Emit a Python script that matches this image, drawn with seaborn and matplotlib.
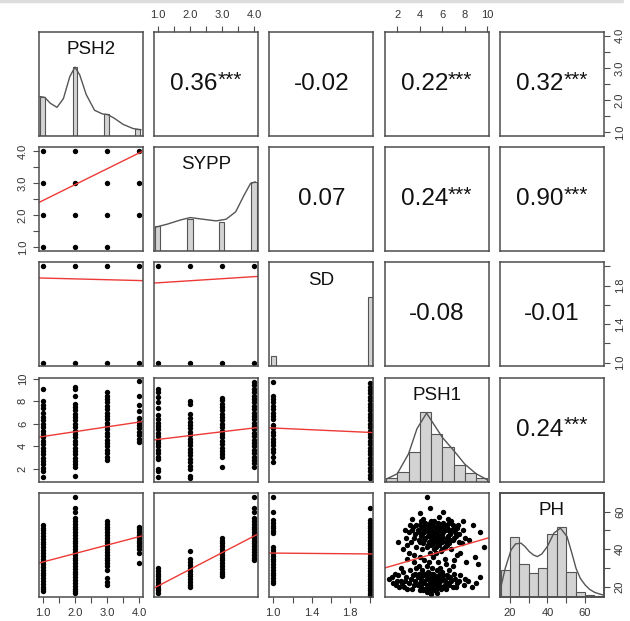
import numpy as np
import pandas as pd
import matplotlib
matplotlib.use('Agg')
import matplotlib.pyplot as plt
from matplotlib.lines import Line2D
import seaborn as sns

### 변수 이름 (대각선 순서)
var_names = ['PSH2', 'SYPP', 'SD', 'PSH1', 'PH']

### 축 범위 / 눈금
axis_lims = {'PSH2': (0.88, 4.12), 'SYPP': (0.88, 4.12), 'SD': (0.96, 2.04),
             'PSH1': (0.88, 10.1), 'PH': (14.6, 70.0)}
axis_ticks = {'PSH2': [1.0, 1.5, 2.0, 2.5, 3.0, 3.5, 4.0],
              'SYPP': [1.0, 1.5, 2.0, 2.5, 3.0, 3.5, 4.0],
              'SD': [1.0, 1.2, 1.4, 1.6, 1.8, 2.0],
              'PSH1': [2, 4, 6, 8, 10],
              'PH': [20, 30, 40, 50, 60]}
axis_ticklabels = {'PSH2': ['1.0', '', '2.0', '', '3.0', '', '4.0'],
                   'SYPP': ['1.0', '', '2.0', '', '3.0', '', '4.0'],
                   'SD': ['1.0', '', '1.4', '', '1.8', ''],
                   'PSH1': ['2', '4', '6', '8', '10'],
                   'PH': ['20', '', '40', '', '60']}

### 상관계수 (위쪽 삼각형) : 값, 유의성 별표
corr_value = {(0, 1): '0.36', (0, 2): '-0.02', (0, 3): '0.22', (0, 4): '0.32',
              (1, 2): '0.07', (1, 3): '0.24', (1, 4): '0.90',
              (2, 3): '-0.08', (2, 4): '-0.01',
              (3, 4): '0.24'}
corr_stars = {(0, 1): '***', (0, 2): '', (0, 3): '***', (0, 4): '***',
              (1, 2): '', (1, 3): '***', (1, 4): '***',
              (2, 3): '', (2, 4): '',
              (3, 4): '***'}

### 히스토그램 (대각선)
psh2_levels = [1.0, 2.0, 3.0, 3.94]
psh2_counts = [95, 167, 52, 16]
psh2_breaks = [0.92, 1.07, 1.93, 2.07, 2.91, 3.06, 3.86, 4.02]
psh2_dens_x = [0.91, 1.06, 1.23, 1.44, 1.64, 1.84, 2.0, 2.15, 2.35, 2.61, 2.86, 3.01, 3.22, 3.5, 3.81, 4.06]
psh2_dens_y = [95, 93, 79, 69, 90, 143, 166, 147, 100, 62, 53, 52, 43, 28, 18, 15]

sypp_levels = [1.0, 2.0, 3.0, 4.0]
sypp_counts = [60, 77, 70, 167]
sypp_breaks = [0.9, 1.07, 1.91, 2.09, 2.9, 3.06, 3.89, 4.08]
sypp_dens_x = [0.93, 1.28, 1.69, 2.0, 2.4, 2.81, 3.12, 3.42, 3.68, 3.88, 4.03]
sypp_dens_y = [58, 65, 75, 81, 77, 73, 77, 95, 135, 163, 167]

sd_levels = [1.0, 2.0]
sd_counts = [17, 113]
sd_breaks = [0.98, 1.03, 1.98, 2.04]

psh1_breaks = [1, 2, 3, 4, 5, 6, 7, 8, 9, 10]
psh1_counts = [4, 11, 34, 80, 55, 40, 19, 10, 4]
psh1_dens_x = [1.04, 2.0, 3.0, 3.75, 4.6, 5.15, 6.0, 7.0, 8.0, 9.0, 10.0]
psh1_dens_y = [3, 9, 32, 61, 79, 68, 51, 36, 20, 9, 2]

ph_breaks = [15, 20, 25, 30, 35, 40, 45, 50, 55, 60, 65, 70]
ph_counts = [80, 178, 97, 70, 87, 188, 207, 75, 15, 4, 2]
ph_dens_x = [15.4, 17.5, 20.6, 23, 25.9, 28, 30.3, 32.5, 34.6, 37, 39.9, 43.4, 46.9, 50.4,
             53, 55.2, 57.5, 60.1, 62.5, 65.2, 68, 70]
ph_dens_y = [35, 85, 140, 158, 160, 150, 135, 125, 120, 128, 150, 190, 205, 180,
             130, 85, 55, 35, 22, 13, 8, 5]

### 산점도 (아래쪽 삼각형)
grid_psh2 = [1, 2, 3, 4, 1, 2, 3, 4, 1, 2, 3, 4, 1, 2, 3]
grid_sypp = [4, 4, 4, 4, 3, 3, 3, 3, 2, 2, 2, 2, 1, 1, 1]
grid_x4 = [1, 2, 3, 4, 1, 2, 3, 4]
grid_sd = [2, 2, 2, 2, 1, 1, 1, 1]

psh1_by_psh2 = {
    1: [9.1, 8.0, 7.7, 7.4, 7.0, 6.6, 6.3, 6.0, 5.7, 5.4, 5.1, 4.8, 4.5, 4.2, 3.9, 3.6, 3.3, 3.0, 2.7, 2.4, 2.1, 1.8, 1.3],
    2: [9.3, 9.1, 8.5, 7.8, 7.5, 7.2, 6.9, 6.6, 6.3, 6.0, 5.7, 5.4, 5.1, 4.8, 4.5, 4.2, 3.9, 3.6, 3.3, 3.0, 2.7, 2.4, 2.2, 1.4],
    3: [8.8, 8.5, 8.2, 7.9, 7.6, 7.3, 7.0, 6.7, 6.4, 6.1, 5.8, 5.5, 5.2, 4.9, 4.6, 4.3, 4.0, 3.7, 3.4, 3.1, 2.8],
    4: [9.8, 8.5, 7.7, 7.1, 6.5, 6.2, 5.9, 5.6, 5.3, 5.0, 4.7, 4.4],
}
psh1_by_sypp = {
    1: [9.1, 8.8, 8.4, 7.9, 7.4, 6.8, 6.4, 6.1, 5.8, 5.5, 5.2, 4.9, 4.6, 4.3, 4.0, 3.7, 3.4, 3.1, 2.9, 2.0, 1.8, 1.3],
    2: [8.0, 7.8, 6.9, 6.5, 6.2, 5.9, 5.6, 5.3, 5.0, 4.7, 4.4, 4.1, 3.8, 3.5, 3.2, 2.9, 2.6, 2.3, 2.0, 1.4, 1.2],
    3: [8.3, 8.1, 7.8, 7.5, 7.2, 6.9, 6.6, 6.3, 6.0, 5.7, 5.4, 5.1, 4.8, 4.5, 4.2, 3.9, 3.6, 3.3, 3.1, 2.2],
    4: [9.7, 9.4, 9.1, 8.8, 8.5, 8.2, 7.9, 7.6, 7.3, 7.0, 6.7, 6.4, 6.1, 5.8, 5.5, 5.2, 4.9, 4.6, 4.3, 4.0,
        3.7, 3.4, 3.1, 2.8, 2.5, 2.2],
}
psh1_by_sd = {
    1: [9.7, 8.5, 8.2, 7.9, 7.6, 7.3, 7.0, 6.7, 6.4, 5.9, 5.6, 5.3, 5.0, 4.7, 4.4, 4.1, 3.8, 3.5, 3.1, 2.6],
    2: [9.6, 9.3, 9.0, 8.7, 8.4, 8.1, 7.8, 7.5, 7.2, 6.9, 6.6, 6.3, 6.0, 5.7, 5.4, 5.1, 4.8, 4.5, 4.2, 3.9,
        3.6, 3.3, 3.0, 2.7, 2.4, 2.1, 1.8, 1.5, 1.2],
}
ph_by_psh2 = {
    1: [53, 51.5, 50, 48.5, 47, 45.5, 44, 42.5, 41, 39.5, 38, 36.5, 35, 33.5, 32, 30.5, 29, 27.5, 26, 24.5,
        23, 21.5, 20, 18.5, 17.5],
    2: [67.7, 62, 60, 56.5, 55, 53.5, 52, 50.5, 49, 47.5, 46, 44.5, 43, 41.5, 40, 38.5, 37, 35.5, 34, 32.5,
        31, 29.5, 28, 26.5, 25, 23.5, 22, 20.5, 19, 17.5, 16.5],
    3: [55, 53.5, 52, 50.5, 49, 47.5, 46, 44.5, 43, 41.5, 40, 38.5, 37, 35.5, 34, 32.5, 31, 29, 24.5, 22.5, 21],
    4: [52, 50.5, 49, 47.5, 46, 44.5, 43, 41.5, 40, 38, 32.5],
}
ph_by_sypp = {
    1: [30, 28.5, 27, 25.5, 24, 22.5, 21, 19.5, 18, 16.6],
    2: [39, 34.5, 33, 31.5, 30, 28.5, 27, 25.5, 24, 22.5, 21, 20],
    3: [46, 44.5, 43, 41.5, 40, 38.5, 37, 35.5, 34, 32.5, 31, 29.5, 28, 26.5, 25.5],
    4: [67.7, 62, 60, 56.5, 55, 53.5, 52, 50.5, 49, 47.5, 46, 44.5, 43, 41.5, 40, 38.5, 37, 35.5, 34.3],
}
ph_by_sd = {
    1: [67.7, 59.8, 55.5, 54, 52.5, 51, 49.5, 48.5, 41, 39.5, 38, 36.5, 35, 33.5, 32, 30.5, 29, 27.5, 26,
        24.5, 23, 22],
    2: [62, 55.5, 54, 52.5, 51, 49.5, 48, 46.5, 45, 43.5, 42, 40.5, 39, 37.5, 36, 34.5, 33, 31.5, 30, 28.5,
        27, 25.5, 24, 22.5, 21, 19.5, 18, 16.5, 15.7],
}

# PSH1 x PH 산점도 (윗 덩어리, 흩어진 점, 아랫 덩어리)
sc_psh1 = [3.4, 3.6, 3.8, 3.9, 4.0, 4.1, 4.2, 4.3, 4.4, 4.5, 4.5, 4.6, 4.7, 4.8, 4.8, 4.9, 5.0, 5.0, 5.1, 5.2,
           5.2, 5.3, 5.4, 5.4, 5.5, 5.6, 5.6, 5.7, 5.8, 5.9, 6.0, 6.0, 6.1, 6.2, 6.3, 6.4, 6.5, 6.6, 6.7, 6.8,
           6.9, 7.0, 7.2, 7.4, 7.5, 3.2, 3.0, 2.8, 7.8, 8.0, 4.3, 5.7, 6.5, 3.7, 5.9, 6.8, 4.9,
           3.5, 3.7, 3.9, 4.0, 4.1, 4.2, 4.3, 4.4, 4.5, 4.6, 4.7, 4.8, 4.9, 5.0, 5.0, 5.1, 5.1, 5.2, 5.3, 5.3,
           5.4, 5.5, 5.5, 5.6, 5.7, 5.8, 5.8, 5.9, 6.0, 6.1, 6.1, 6.2, 6.3, 6.4, 6.5, 6.6, 6.7, 6.8, 6.9, 7.0,
           7.1, 7.3, 7.5, 3.3, 3.1, 2.9, 4.7, 5.4, 6.0, 6.4, 4.2, 7.7,
           4.6, 4.9, 4.0, 6.1, 3.3, 2.7, 2.1, 9.3, 9.7, 8.7, 7.8, 8.4, 7.6, 2.5, 3.5, 8.9, 9.2, 2.9,
           4.0, 5.4, 6.2, 3.0, 7.3, 8.1, 6.9, 4.8,
           1.3, 1.6, 1.9, 2.1, 2.3, 2.5, 2.6, 2.8, 3.0, 3.1, 3.3, 3.4, 3.6, 3.7, 3.8, 3.9, 4.0, 4.1, 4.2, 4.3,
           4.4, 4.5, 4.6, 4.6, 4.7, 4.8, 4.9, 4.9, 5.0, 5.1, 5.1, 5.2, 5.3, 5.4, 5.4, 5.5, 5.6, 5.7, 5.8, 5.9,
           6.0, 6.1, 6.2, 6.4, 6.5, 6.7, 6.9, 7.1, 7.3, 7.6, 7.9, 8.3, 8.6, 9.0, 9.3, 5.6, 4.4, 6.3, 3.5, 7.0, 5.2,
           1.5, 2.0, 2.2, 2.4, 2.7, 2.9, 3.2, 3.5, 3.6, 3.8, 4.0, 4.1, 4.2, 4.3, 4.4, 4.5, 4.6, 4.7, 4.8, 4.9,
           5.0, 5.0, 5.1, 5.2, 5.3, 5.3, 5.4, 5.5, 5.6, 5.7, 5.8, 5.9, 6.0, 6.1, 6.2, 6.3, 6.5, 6.6, 6.8, 7.0,
           7.2, 7.5, 8.0, 5.0, 4.6, 5.5, 3.9, 5.8, 6.6, 2.3, 1.8]
sc_ph = [52, 48, 50, 45, 53, 47, 51, 43, 49, 54, 46, 41, 50, 44, 52, 47, 55, 42, 49, 45,
         53, 40, 48, 51, 44, 46, 54, 42, 50, 47, 52, 44, 49, 41, 53, 46, 50, 43, 48, 55,
         45, 51, 47, 53, 44, 44, 49, 46, 50, 46, 56, 57, 56, 41, 39, 40, 38,
         46, 53, 49, 44, 55, 48, 52, 45, 50, 53, 47, 49, 54, 45, 51, 47, 53, 43, 49, 55,
         46, 52, 48, 43, 50, 53, 45, 51, 48, 54, 46, 50, 44, 52, 47, 54, 45, 50, 53, 46,
         49, 51, 48, 50, 53, 42, 42, 41, 40, 42, 40, 43,
         68, 62, 59, 60, 56, 50, 44, 49, 41, 53, 55, 45, 38, 40, 37, 36, 32, 35,
         36, 38, 35, 38, 37, 33, 31, 33,
         24, 22, 21, 26, 23, 28, 20, 25, 22, 29, 19, 26, 23, 30, 21, 27, 18, 24, 29, 22,
         26, 19, 31, 24, 28, 21, 17, 26, 23, 30, 19, 27, 22, 25, 18, 29, 21, 26, 23, 19,
         28, 24, 21, 26, 22, 25, 20, 24, 22, 26, 21, 23, 20, 22, 25, 33, 34, 32, 33, 34, 36,
         25, 23, 20, 22, 23, 19, 24, 21, 27, 25, 22, 20, 26, 18, 23, 27, 21, 25, 19, 23,
         27, 20, 24, 21, 26, 18, 23, 20, 25, 22, 27, 24, 20, 26, 23, 19, 25, 21, 23, 27,
         20, 23, 24, 16, 17, 16.5, 31, 30, 29, 30, 27]

### 회귀선 (절편, 기울기)
fit_lines = {(1, 0): (1.965, 0.494), (2, 0): (1.886, -0.0086), (2, 1): (1.807, 0.0213),
             (3, 0): (4.45, 0.427), (3, 1): (4.28, 0.34), (3, 2): (6.02, -0.389),
             (4, 0): (28.64, 4.5), (4, 1): (11.48, 8.89), (4, 2): (38.35, -0.46), (4, 3): (28.4, 1.743)}


def strips(d):
    xs, ys = [], []
    for k, v in d.items():
        xs += [k] * len(v)
        ys += v
    return xs, ys


scatter_data = {
    (1, 0): (grid_psh2, grid_sypp),
    (2, 0): (grid_x4, grid_sd),
    (2, 1): (grid_x4, grid_sd),
    (3, 0): strips(psh1_by_psh2),
    (3, 1): strips(psh1_by_sypp),
    (3, 2): strips(psh1_by_sd),
    (4, 0): strips(ph_by_psh2),
    (4, 1): strips(ph_by_sypp),
    (4, 2): strips(ph_by_sd),
    (4, 3): (sc_psh1, sc_ph),
}

hist_data = {
    'PSH2': (psh2_levels, psh2_counts, psh2_breaks, psh2_dens_x, psh2_dens_y),
    'SYPP': (sypp_levels, sypp_counts, sypp_breaks, sypp_dens_x, sypp_dens_y),
    'SD': (sd_levels, sd_counts, sd_breaks, None, None),
    'PSH1': ([b + 0.5 for b in psh1_breaks[:-1]], psh1_counts, psh1_breaks, psh1_dens_x, psh1_dens_y),
    'PH': ([b + 2.5 for b in ph_breaks[:-1]], ph_counts, ph_breaks, ph_dens_x, ph_dens_y),
}

sns.set_style('white')
plt.rcParams['font.family'] = ['Liberation Sans', 'DejaVu Sans']

W, H = 630, 621
fig = plt.figure(figsize=(W / 100, H / 100), dpi=100)
fig.add_artist(Line2D([0.0, 0.988], [0.998, 0.998], color='#dddddd', lw=2.5))
renderer = fig.canvas.get_renderer()

frame_col = '#4d4d4d'
left0, top0, step_x, step_y, size = 39, 32, 115.2, 115.2, 104

for i, yv in enumerate(var_names):
    for j, xv in enumerate(var_names):
        x0 = left0 + j * step_x
        y0 = top0 + i * step_y
        ax = fig.add_axes([x0 / W, 1 - (y0 + size) / H, size / W, size / H])
        ax.set_xlim(axis_lims[xv])
        ax.tick_params(which='both', bottom=False, top=False, left=False, right=False,
                       labelbottom=False, labeltop=False, labelleft=False, labelright=False,
                       length=4, width=0.8, color=frame_col, labelsize=8, labelcolor='#333333')
        for s in ax.spines.values():
            s.set_color(frame_col)
            s.set_linewidth(1.1)

        if i == j:
            levels, counts, breaks, dx, dy = hist_data[xv]
            sns.histplot(x=levels, weights=counts, bins=breaks, ax=ax, color='#d3d3d3',
                         edgecolor='#555555', linewidth=0.8, alpha=1)
            if dx is not None:
                sns.lineplot(x=dx, y=dy, ax=ax, color='#555555', lw=1.0, estimator=None)
            ax.set_ylim(0, 1.5 * max(counts))
            ax.text(0.5, 0.83, xv, transform=ax.transAxes, ha='center', va='center',
                    fontsize=13.5, color='#111111')
        elif i < j:
            ax.set_ylim(axis_lims[yv])
            num = ax.text(0.5, 0.5, corr_value[(i, j)], transform=ax.transAxes, ha='center',
                          va='center', fontsize=17.5, color='#111111')
            if corr_stars[(i, j)]:
                star = ax.annotate(corr_stars[(i, j)], xy=(1, 1.12), xycoords=num, ha='left',
                                   va='top', fontsize=15, color='#111111')
                # 숫자+별표 묶음을 가운데로
                ws = star.get_window_extent(renderer).width
                num.set_position((0.5 - ws / 2 / size, 0.5))
        else:
            xs, ys = scatter_data[(i, j)]
            sns.scatterplot(x=xs, y=ys, ax=ax, color='black', s=15, linewidth=0)
            b, m = fit_lines[(i, j)]
            ax.axline((0, b), slope=m, color='#ee3a36', lw=1.0)
            ax.set_ylim(axis_lims[yv])
        ax.set_xlabel('')
        ax.set_ylabel('')
        ax.set_yticks([])
        ax.set_xticks([])

        # 바깥쪽 축 (R pairs 스타일로 번갈아)
        if i == 0 and j % 2 == 1:
            ax.set_xticks(axis_ticks[xv], axis_ticklabels[xv])
            ax.tick_params(top=True, labeltop=True, pad=5)
        if i == len(var_names) - 1 and j % 2 == 0:
            ax.set_xticks(axis_ticks[xv], axis_ticklabels[xv])
            ax.tick_params(bottom=True, labelbottom=True, pad=4)
        if j == 0 and i % 2 == 1:
            ax.set_ylim(axis_lims[yv])
            ax.set_yticks(axis_ticks[yv], axis_ticklabels[yv])
            ax.tick_params(left=True, labelleft=True, pad=4)
            plt.setp(ax.get_yticklabels(), rotation=90, va='center')
        if j == len(var_names) - 1 and i % 2 == 0:
            if i != j:
                ax.set_ylim(axis_lims[yv])
            ax2 = ax.twinx() if i == j else ax
            ax2.set_ylim(axis_lims[yv])
            ax2.set_yticks(axis_ticks[yv], axis_ticklabels[yv])
            ax2.tick_params(which='both', left=False, labelleft=False, right=True, labelright=True,
                            length=4, width=0.8, color=frame_col, labelsize=8,
                            labelcolor='#333333', pad=4)
            plt.setp(ax2.get_yticklabels(), rotation=90, va='center')
            for s in ax2.spines.values():
                s.set_color(frame_col)
                s.set_linewidth(1.1)

fig.savefig('out.png', dpi=100, facecolor='white')
